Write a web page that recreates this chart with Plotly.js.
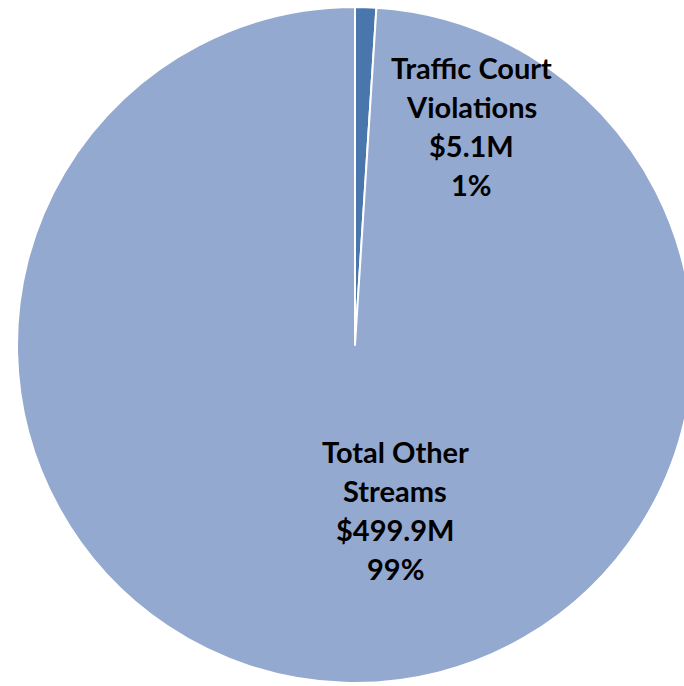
<!DOCTYPE html>
<html>
<head>
<meta charset="utf-8">
<script src="https://cdn.plot.ly/plotly-3.0.1.min.js"></script>
<style>
html, body { margin: 0; padding: 0; overflow: hidden; background: #fff; }
#chart { width: 710px; height: 690px; }
</style>
</head>
<body>
<div id="chart"></div>
<script>
// Data
const labelLines = [["Traffic Court", "Violations"], ["Total Other", "Streams"]];
const values = [5.1, 499.9];            // $ millions
const colors = ["#4A76AE", "#94A9D0"];

const total = values.reduce((a, b) => a + b, 0);
const percents = values.map(v => Math.round(v / total * 100) + "%");
const moneyText = values.map(v => "$" + v.toFixed(1) + "M");

// label anchor positions (paper coords) and line spacing in px
const labelPos = [{x: 471 / 710, y: 1 - 68 / 690}, {x: 395 / 710, y: 1 - 451 / 690}];
const lineStep = 39;

const annotations = [];
labelLines.forEach((lines, i) => {
  const all = lines.concat([moneyText[i], percents[i]]);
  all.forEach((t, k) => {
    annotations.push({
      xref: "paper", yref: "paper",
      x: labelPos[i].x, y: labelPos[i].y,
      yshift: -k * lineStep,
      xanchor: "center", yanchor: "middle",
      text: "<b>" + t + "</b>",
      showarrow: false,
      font: {family: "Lato, 'Open Sans', sans-serif", size: 29, color: "#000"}
    });
  });
});

const trace = {
  type: "pie",
  labels: labelLines.map(l => l.join(" ")),
  values: values,
  marker: {colors: colors, line: {color: "#ffffff", width: 2}},
  sort: false,
  direction: "clockwise",
  rotation: 0,
  textinfo: "none",
  hoverinfo: "label+value+percent",
  domain: {x: [0, 1], y: [(345 - 338) / 690, (345 + 338) / 690]}
};

const layout = {
  width: 710, height: 690,
  margin: {l: 0, r: 0, t: 0, b: 0},
  showlegend: false,
  paper_bgcolor: "#ffffff",
  annotations: annotations
};

Plotly.newPlot("chart", [trace], layout, {displayModeBar: false, staticPlot: true});
</script>
</body>
</html>
